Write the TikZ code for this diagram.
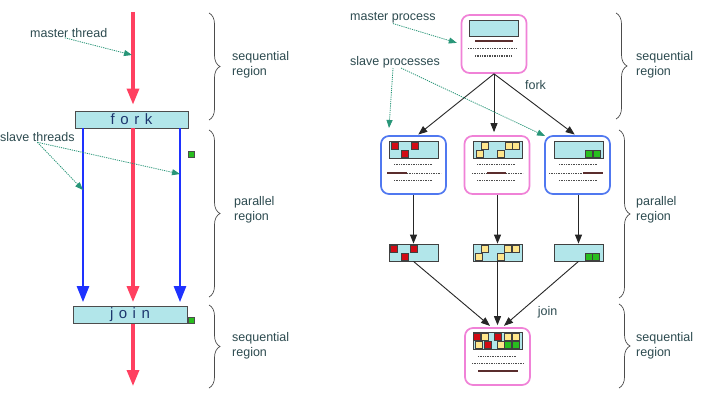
\documentclass[tikz,border=0pt]{standalone}
\usepackage{fontspec}
\setmainfont{Liberation Sans}
\usetikzlibrary{arrows.meta,decorations.pathreplacing}
\definecolor{cyanfill}{RGB}{178,230,234}
\definecolor{redline}{RGB}{255,64,96}
\definecolor{blueline}{RGB}{30,50,255}
\definecolor{tealc}{RGB}{40,150,120}
\definecolor{txt}{RGB}{45,75,80}
\definecolor{navyc}{RGB}{30,55,110}
\definecolor{pinkc}{RGB}{240,130,215}
\definecolor{bluec}{RGB}{80,120,240}
\definecolor{sqred}{RGB}{210,10,20}
\definecolor{sqyel}{RGB}{255,230,140}
\definecolor{sqgreen}{RGB}{40,190,30}
\definecolor{lineb}{RGB}{90,45,45}
\tikzset{
  lbl/.style={text=txt,font=\fontsize{12.5}{15}\selectfont,inner sep=0pt,align=left},
  hint/.style={draw=tealc,line width=0.8pt,dash pattern=on 1.2pt off 1pt,-{Triangle[length=8pt,width=6pt,fill=tealc]}},
  redarrow/.style={draw=redline,line width=3.2pt,-{Triangle[length=16pt,width=12pt]}},
  bluearrow/.style={draw=blueline,line width=2.6pt,-{Triangle[length=16pt,width=12pt]}},
  barbox/.style={draw=gray!60!black,line width=0.8pt,fill=cyanfill,minimum height=17pt,inner sep=0pt,font=\fontsize{15}{15}\selectfont,text=navyc},
  procbox/.style={rounded corners=8pt,line width=1.7pt,fill=white,minimum width=65pt,minimum height=58pt,inner sep=0pt},
  screen/.style={draw=gray!50!black,fill=cyanfill,minimum width=49pt,minimum height=16.5pt,inner sep=0pt,line width=0.8pt},
  sq/.style={draw=black!75,line width=0.6pt,minimum size=7pt,inner sep=0pt},
  blk/.style={draw=black!85,line width=0.9pt,-{Triangle[length=9pt,width=7pt]}},
  brc/.style={draw=black!70,line width=0.7pt,decorate,decoration={brace,amplitude=11pt}},
  dl/.style={draw=black!70,line width=1pt,dash pattern=on 1pt off 0.7pt},
  sl/.style={draw=lineb,line width=1.4pt},
  gsq/.style={draw=black!70,fill=sqgreen,line width=0.5pt,minimum size=6pt,inner sep=0pt}
}
\begin{document}
\begin{tikzpicture}[x=1pt,y=-1pt]
\useasboundingbox (0,0) rectangle (703,404);
\fill[white] (0,0) rectangle (703,404);
% ---------------- left diagram ----------------
\coordinate (mtop) at (133,12);
\coordinate (mbot) at (133,386);
\coordinate (b1) at (83,0);
\coordinate (b2) at (180,0);
\node[barbox,minimum width=113pt] (fork) at (131.5,119.5) {f\hspace{5.5pt}o\hspace{5.5pt}r\hspace{5.5pt}k};
\node[barbox,minimum width=114pt] (join) at (130,315) {j\hspace{5.5pt}o\hspace{5.5pt}i\hspace{5.5pt}n};
\draw[redarrow,shorten >=6pt] (mtop) -- (fork.north -| mtop);
\draw[redarrow,shorten >=4pt] (fork.south -| mtop) -- (join.north -| mtop);
\draw[bluearrow,shorten >=4pt] (fork.south -| b1) -- (join.north -| b1);
\draw[bluearrow,shorten >=4pt] (fork.south -| b2) -- (join.north -| b2);
\draw[redarrow] (join.south -| mtop) -- (mbot);
\node[gsq] (g1) at (191,154.5) {};
\node[gsq] (g2) at (191,320.5) {};
\node[lbl,anchor=west] (mthread) at (30,33) {master thread};
\node[lbl,anchor=west] (sthreads) at (0,137.5) {slave threads};
\coordinate (mt) at (132,55);
\coordinate (st1) at (83,190);
\coordinate (st2) at (180,174);
\draw[hint] ([xshift=-4pt]mthread.south) -- (mt);
\draw[hint] (sthreads.south) -- (st1);
\draw[hint] (sthreads.south) -- (st2);
% braces left
\coordinate (lb1a) at (209,13); \coordinate (lb1b) at (209,120);
\coordinate (lb2a) at (209,130); \coordinate (lb2b) at (209,297);
\coordinate (lb3a) at (209,305); \coordinate (lb3b) at (209,388);
\draw[brc] (lb1a) -- (lb1b);
\draw[brc] (lb2a) -- (lb2b);
\draw[brc] (lb3a) -- (lb3b);
\node[lbl,anchor=west] (lt1) at (232,64.5) {sequential\\region};
\node[lbl,anchor=west] (lt2) at (234,210) {parallel\\region};
\node[lbl,anchor=west] (lt3) at (232,345.5) {sequential\\region};
% ---------------- right diagram ----------------
\node[procbox,draw=pinkc] (master) at (494,44) {};
\node[screen] (mscr) at (494,28.5) {};
\draw[sl] (475,41) -- (513,41);
\draw[dl] (468,49) -- (517,49);
\draw[dl] (475,56) -- (512,56);
% slave boxes
\node[procbox,draw=bluec] (ls) at (413.5,165) {};
\node[procbox,draw=pinkc] (ms) at (497,165) {};
\node[procbox,draw=bluec] (rs) at (577.5,165) {};
\node[screen] (lscr) at (414,150) {};
\node[screen] (mscr2) at (497.5,150) {};
\node[screen] (rscr) at (578.5,150) {};
\node[sq,fill=sqred] at (394.5,146) {};
\node[sq,fill=sqred] at (414.5,146) {};
\node[sq,fill=sqred] at (404.5,154) {};
\node[sq,fill=sqyel] at (485,146) {};
\node[sq,fill=sqyel] at (480,154) {};
\node[sq,fill=sqyel] at (501,154) {};
\node[sq,fill=sqyel] at (508.5,146) {};
\node[sq,fill=sqyel] at (515.5,146) {};
\node[sq,fill=sqgreen] at (589,154) {};
\node[sq,fill=sqgreen] at (596.5,154) {};
\draw[dl] (394,164) -- (432,164);
\draw[sl] (387,173) -- (407,173); \draw[dl] (407,173) -- (441,173);
\draw[dl] (394,180) -- (432,180);
\draw[dl] (477,164) -- (516,164);
\draw[dl] (472,173) -- (487,173); \draw[sl] (487,173) -- (506,173); \draw[dl] (506,173) -- (523,173);
\draw[dl] (477,180) -- (516,180);
\draw[dl] (559,164) -- (597,164);
\draw[dl] (549,173) -- (583,173); \draw[sl] (583,173) -- (603,173);
\draw[dl] (559,180) -- (597,180);
% small boxes
\node[screen,minimum height=17pt] (lsm) at (413.5,252.5) {};
\node[screen,minimum height=17pt] (msm) at (497.5,252.5) {};
\node[screen,minimum height=17pt] (rsm) at (578.5,252.5) {};
\node[sq,fill=sqred] at (394,249) {};
\node[sq,fill=sqred] at (414,249) {};
\node[sq,fill=sqred] at (405,256.5) {};
\node[sq,fill=sqyel] at (485,249) {};
\node[sq,fill=sqyel] at (479,256.5) {};
\node[sq,fill=sqyel] at (500.5,256.5) {};
\node[sq,fill=sqyel] at (508,249) {};
\node[sq,fill=sqyel] at (515.5,249) {};
\node[sq,fill=sqgreen] at (589,256.5) {};
\node[sq,fill=sqgreen] at (596,256.5) {};
% result box
\node[procbox,draw=pinkc,minimum height=57pt] (res) at (497.5,356.5) {};
\node[screen,minimum height=17pt] (rescr) at (497.5,341) {};
\node[sq,fill=sqred] at (477,336.5) {};
\node[sq,fill=sqyel] at (485,336.5) {};
\node[sq,fill=sqred] at (498,336.5) {};
\node[sq,fill=sqyel] at (508,336.5) {};
\node[sq,fill=sqyel] at (515.5,336.5) {};
\node[sq,fill=sqyel] at (479,345) {};
\node[sq,fill=sqred] at (488,345) {};
\node[sq,fill=sqyel] at (500.5,345) {};
\node[sq,fill=sqgreen] at (508,345) {};
\node[sq,fill=sqgreen] at (515.5,345) {};
\draw[dl] (478,356) -- (517,356);
\draw[dl] (472,363) -- (524,363);
\draw[sl] (478,371) -- (518,371);
% fork arrows
\draw[blk,shorten >=1pt] (master.south) -- ([xshift=4pt]ls.north);
\draw[blk,shorten >=3pt] (master.south) -- (ms.north -| master);
\draw[blk,shorten >=1pt] (master.south) -- ([xshift=-2pt]rs.north);
\node[lbl] (forkl) at (535.5,85.5) {fork};
% vertical arrows
\draw[blk] (ls.south) -- (lsm.north);
\draw[blk] (ms.south -| msm) -- (msm.north);
\draw[blk] (rs.south -| rsm) -- (rsm.north);
% join arrows
\draw[blk,shorten >=2pt] (lsm.south) -- ([xshift=-6pt]res.north);
\draw[blk,shorten >=2pt] (msm.south) -- (res.north);
\draw[blk,shorten >=2pt] (rsm.south) -- ([xshift=5pt]res.north);
\node[lbl] (joinl) at (547.5,312) {join};
% labels and hints
\node[lbl,anchor=west] (mproc) at (350,18) {master process};
\node[lbl,anchor=west] (sproc) at (350,62) {slave processes};
\draw[hint,shorten >=4pt] (mproc.south) -- (master.west);
\coordinate (sp1) at (389,128);
\coordinate (sp2) at (545,136);
\draw[hint] ([xshift=-2pt]sproc.south) -- (sp1);
\draw[hint] ([xshift=6pt]sproc.south) -- (sp2);
% braces right
\coordinate (rb1a) at (616,13); \coordinate (rb1b) at (616,119);
\coordinate (rb2a) at (619,130); \coordinate (rb2b) at (619,298);
\coordinate (rb3a) at (619,304); \coordinate (rb3b) at (619,388);
\draw[brc] (rb1a) -- (rb1b);
\draw[brc] (rb2a) -- (rb2b);
\draw[brc] (rb3a) -- (rb3b);
\node[lbl,anchor=west] (rt1) at (636,64.5) {sequential\\region};
\node[lbl,anchor=west] (rt2) at (636,210) {parallel\\region};
\node[lbl,anchor=west] (rt3) at (636,345.5) {sequential\\region};
\end{tikzpicture}
\end{document}
